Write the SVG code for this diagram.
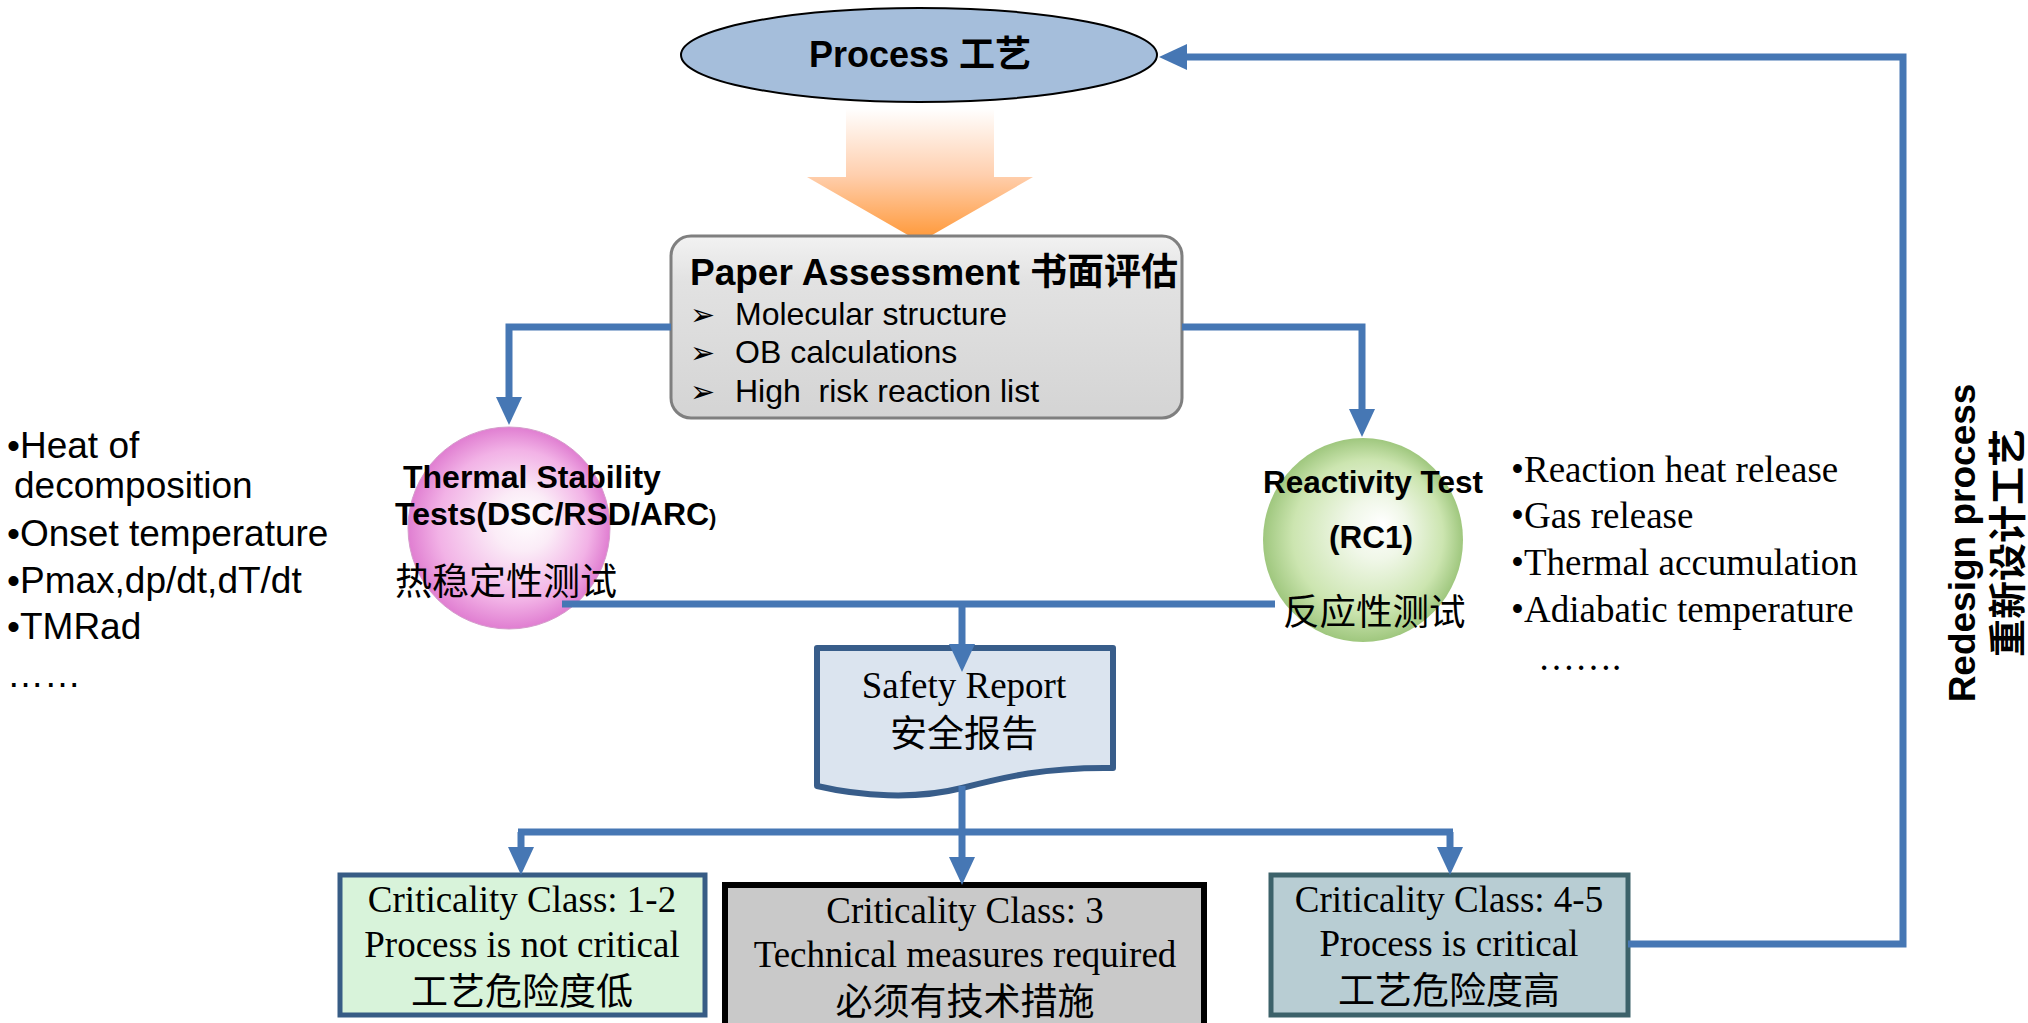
<svg xmlns="http://www.w3.org/2000/svg" width="2028" height="1023" viewBox="0 0 2028 1023">
  <style>
    .sans { font-family: "Liberation Sans", Arial, "Noto Sans CJK SC", sans-serif; fill: #000; }
    .bold { font-weight: 700; }
    .serif { font-family: "Liberation Serif", "Times New Roman", "Noto Sans CJK SC", serif; fill: #000; }
    .cjk { font-family: "Noto Sans CJK SC", "Noto Sans CJK TC", sans-serif; fill: #000; }
    .mid { text-anchor: middle; }
    .bullet { font-family: "DejaVu Sans", sans-serif; font-size: 30px; fill: #000; }
    .link { fill: none; stroke: #4677b4; stroke-width: 7; stroke-linejoin: miter; }
  </style>
  <defs>
    <marker id="arrow" markerUnits="userSpaceOnUse" markerWidth="30" markerHeight="28" refX="1" refY="14" orient="auto">
      <path d="M0,1 L28,14 L0,27 Z" fill="#4677b4"/>
    </marker>
    <linearGradient id="fadeOrange" gradientUnits="userSpaceOnUse" x1="0" y1="108" x2="0" y2="242">
      <stop offset="0" stop-color="#ffffff"/>
      <stop offset="0.5" stop-color="#ffcfae"/>
      <stop offset="1" stop-color="#ff9633"/>
    </linearGradient>
    <linearGradient id="paperFill" x1="0" y1="0" x2="0" y2="1">
      <stop offset="0" stop-color="#f2f2f2"/>
      <stop offset="0.25" stop-color="#e2e2e2"/>
      <stop offset="1" stop-color="#d4d4d4"/>
    </linearGradient>
    <radialGradient id="pinkBall" cx="0.5" cy="0.5" r="0.5" fx="0.6" fy="0.45">
      <stop offset="0" stop-color="#ffffff"/>
      <stop offset="0.3" stop-color="#fbecf7"/>
      <stop offset="0.75" stop-color="#f2b2e6"/>
      <stop offset="1" stop-color="#e07ed1"/>
    </radialGradient>
    <radialGradient id="greenBall" cx="0.5" cy="0.5" r="0.5" fx="0.6" fy="0.42">
      <stop offset="0" stop-color="#ffffff"/>
      <stop offset="0.3" stop-color="#f0f7e8"/>
      <stop offset="0.75" stop-color="#cce5b0"/>
      <stop offset="1" stop-color="#9fc77e"/>
    </radialGradient>
  </defs>

  <!-- top process ellipse -->
  <g id="process">
    <ellipse cx="919" cy="55" rx="238" ry="47" fill="#a5bedb" stroke="#000" stroke-width="2"/>
    <text class="sans bold mid" x="920" y="67" font-size="36">Process 工艺</text>
  </g>

  <!-- wide fading arrow into the paper assessment -->
  <g id="flow-arrow">
    <path d="M846,108 H994 V177 H1033 L920,242 L807,177 H846 Z" fill="url(#fadeOrange)"/>
  </g>

  <g id="paper-assessment">
    <rect x="671" y="236" width="511" height="182" rx="20" ry="20" fill="url(#paperFill)" stroke="#7f7f7f" stroke-width="3"/>
    <text class="sans bold" x="690" y="285" font-size="37">Paper Assessment 书面评估</text>
    <text class="bullet" x="690" y="325">➢</text>
    <text class="bullet" x="690" y="363">➢</text>
    <text class="bullet" x="690" y="402">➢</text>
    <text class="sans" x="735" y="325" font-size="32">Molecular structure</text>
    <text class="sans" x="735" y="363" font-size="32">OB calculations</text>
    <text class="sans" x="735" y="402" font-size="32" xml:space="preserve">High  risk reaction list</text>
  </g>

  <g id="thermal-params">
    <text class="sans" x="7" y="458" font-size="37">•Heat of</text>
    <text class="sans" x="14" y="498" font-size="37">decomposition</text>
    <text class="sans" x="7" y="546" font-size="37">•Onset temperature</text>
    <text class="sans" x="7" y="593" font-size="37">•Pmax,dp/dt,dT/dt</text>
    <text class="sans" x="7" y="639" font-size="37">•TMRad</text>
    <text class="sans" x="7" y="687" font-size="37">……</text>
  </g>

  <g id="thermal-stability">
    <ellipse cx="509" cy="528" rx="101" ry="101" fill="url(#pinkBall)" stroke="#d59ccb" stroke-width="1"/>
    <text class="sans bold" x="403" y="488" font-size="32">Thermal Stability</text>
    <text class="sans bold" x="395" y="525" font-size="32">Tests(DSC/RSD/ARC<tspan font-size="22">)</tspan></text>
    <text class="cjk" x="395" y="595" font-size="37">热稳定性测试</text>
  </g>

  <g id="reactivity">
    <ellipse cx="1363" cy="540" rx="100" ry="102" fill="url(#greenBall)"/>
    <text class="sans bold" x="1263" y="493" font-size="31.5">Reactivity Test</text>
    <text class="sans bold mid" x="1371" y="548" font-size="31.5">(RC1)</text>
    <text class="cjk" x="1283" y="625" font-size="36.5">反应性测试</text>
  </g>

  <g id="reaction-params">
    <text class="serif" x="1511" y="482" font-size="37">•Reaction heat release</text>
    <text class="serif" x="1511" y="528" font-size="37">•Gas release</text>
    <text class="serif" x="1511" y="575" font-size="37">•Thermal accumulation</text>
    <text class="serif" x="1511" y="622" font-size="37">•Adiabatic temperature</text>
    <text class="serif" x="1538" y="670" font-size="37">…….</text>
  </g>

  <g id="safety-report">
    <path d="M817,648 H1113 V768 C1045,767 1005,777 962,788 C915,800 860,796 817,786 Z" fill="#dbe4ef" stroke="#385d8a" stroke-width="6" stroke-linejoin="round"/>
    <text class="serif mid" x="964" y="698" font-size="37">Safety Report</text>
    <text class="cjk mid" x="964" y="747" font-size="37">安全报告</text>
  </g>

  <g id="class-low">
    <rect x="340" y="875" width="365" height="140" fill="#d8f3da" stroke="#375c85" stroke-width="5"/>
    <text class="serif mid" x="522" y="912" font-size="37">Criticality Class: 1-2</text>
    <text class="serif mid" x="522" y="957" font-size="37">Process is not critical</text>
    <text class="cjk mid" x="522" y="1005" font-size="37">工艺危险度低</text>
  </g>

  <g id="class-mid">
    <rect x="725" y="885" width="479" height="150" fill="#c9c9c9" stroke="#000" stroke-width="6"/>
    <text class="serif mid" x="965" y="923" font-size="37">Criticality Class: 3</text>
    <text class="serif mid" x="965" y="967" font-size="37">Technical measures required</text>
    <text class="cjk mid" x="965" y="1015" font-size="37">必须有技术措施</text>
  </g>

  <g id="class-high">
    <rect x="1271" y="875" width="357" height="140" fill="#b8cdd3" stroke="#3c626a" stroke-width="5"/>
    <text class="serif mid" x="1449" y="912" font-size="37">Criticality Class: 4-5</text>
    <text class="serif mid" x="1449" y="956" font-size="37">Process is critical</text>
    <text class="cjk mid" x="1449" y="1004" font-size="37">工艺危险度高</text>
  </g>

  <g id="redesign-label">
    <text class="sans bold mid" transform="translate(1975,543) rotate(-90)" font-size="37">Redesign process</text>
    <text class="cjk bold mid" transform="translate(2021,543) rotate(-90)" font-size="38">重新设计工艺</text>
  </g>

  <!-- connectors -->
  <g id="connectors">
    <path class="link" d="M671,327 H509 V398" marker-end="url(#arrow)"/>
    <path class="link" d="M1182,327 H1362 V410" marker-end="url(#arrow)"/>
    <path class="link" d="M562,604 H1275"/>
    <path class="link" d="M962,604 V645" marker-end="url(#arrow)"/>
    <path class="link" d="M962,786 V832"/>
    <path class="link" d="M518,832 H1453"/>
    <path class="link" d="M521,832 V848" marker-end="url(#arrow)"/>
    <path class="link" d="M962,832 V858" marker-end="url(#arrow)"/>
    <path class="link" d="M1450,832 V848" marker-end="url(#arrow)"/>
    <path class="link" d="M1628,944 H1903 V57 H1186" marker-end="url(#arrow)"/>
  </g>
</svg>
